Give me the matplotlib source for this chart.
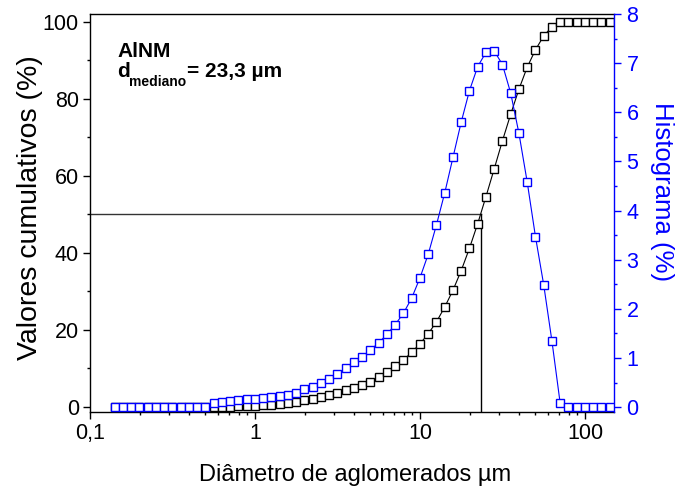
import matplotlib
matplotlib.use('Agg')
import matplotlib.pyplot as plt
from matplotlib.ticker import MultipleLocator, FixedLocator, FixedFormatter, LogLocator, NullFormatter

plt.rcParams['font.family'] = ['Liberation Sans', 'DejaVu Sans']

# Particle size classes (µm)
diam = [0.1413, 0.1585, 0.1778, 0.1995, 0.2239, 0.2512, 0.2818, 0.3162, 0.3548, 0.3981,
        0.4467, 0.5012, 0.5623, 0.6310, 0.7079, 0.7943, 0.8913, 1.000, 1.122, 1.259,
        1.413, 1.585, 1.778, 1.995, 2.239, 2.512, 2.818, 3.162, 3.548, 3.981,
        4.467, 5.012, 5.623, 6.310, 7.079, 7.943, 8.913, 10.00, 11.22, 12.59,
        14.13, 15.85, 17.78, 19.95, 22.39, 25.12, 28.18, 31.62, 35.48, 39.81,
        44.67, 50.12, 56.23, 63.10, 70.79, 79.43, 89.13, 100.0, 112.2, 125.9,
        141.3]

# Cumulative values (%)
cumul = [0, 0, 0, 0, 0, 0, 0, 0, 0, 0,
         0, 0, 0.02, 0.05, 0.1, 0.15, 0.25, 0.35, 0.45, 0.6,
         0.8, 1.05, 1.3, 1.7, 2.15, 2.6, 3.05, 3.65, 4.3, 4.95,
         5.65, 6.55, 7.86, 9.16, 10.64, 12.2, 14.2, 16.4, 19.0, 22.1,
         25.95, 30.3, 35.4, 41.2, 47.6, 54.6, 61.8, 69.1, 76.0, 82.5,
         88.2, 92.7, 96.3, 98.7, 99.8, 100, 100, 100, 100, 100,
         100]

# Histogram values (%)
hist = [0, 0, 0, 0, 0, 0, 0, 0, 0, 0,
        0, 0, 0.075, 0.11, 0.13, 0.14, 0.16, 0.16, 0.18, 0.20,
        0.22, 0.25, 0.285, 0.37, 0.41, 0.49, 0.58, 0.68, 0.79, 0.91,
        1.02, 1.16, 1.31, 1.48, 1.68, 1.91, 2.22, 2.63, 3.11, 3.71,
        4.36, 5.08, 5.80, 6.44, 6.93, 7.22, 7.25, 6.97, 6.39, 5.57,
        4.58, 3.47, 2.49, 1.34, 0.075, 0, 0, 0, 0, 0,
        0]

d50 = 23.3
median_level = 50

xticks = [0.1, 1, 10, 100]
xticklabels = ['0,1', '1', '10', '100']
yticks_left = [0, 20, 40, 60, 80, 100]
yticks_right = [0, 1, 2, 3, 4, 5, 6, 7, 8]

W, H = 677, 490
fig = plt.figure(figsize=(W / 100, H / 100), dpi=100)
ax = fig.add_axes([90 / W, 1 - 412 / H, 524 / W, 398 / H])

ax.set_xscale('log')
ax.set_xlim(0.1, 150)
ax.set_ylim(-1.3, 102)

ax.plot(diam, cumul, color='black', lw=0.8, marker='s', ms=5.6,
        mfc='white', mec='black', mew=1.0, zorder=3)
ax.plot([0.1, d50], [median_level, median_level], color='#333333', lw=1.0, zorder=2)
ax.plot([d50, d50], [median_level, -1.3], color='black', lw=1.0, zorder=2)

ax.xaxis.set_major_locator(FixedLocator(xticks))
ax.xaxis.set_major_formatter(FixedFormatter(xticklabels))
ax.xaxis.set_minor_locator(LogLocator(base=10, subs=[2, 3, 4, 5, 6, 7, 8, 9]))
ax.xaxis.set_minor_formatter(NullFormatter())
ax.yaxis.set_major_locator(FixedLocator(yticks_left))
ax.yaxis.set_minor_locator(MultipleLocator(10))

ax.tick_params(which='major', direction='out', length=5, width=1, labelsize=15.5, pad=3)
ax.tick_params(which='minor', direction='out', length=2.5, width=1)
ax.tick_params(top=False, right=False)
for s in ['left', 'bottom', 'top']:
    ax.spines[s].set_linewidth(1.0)
ax.spines['right'].set_visible(False)

ax.set_xlabel('Diâmetro de aglomerados µm', fontsize=17)
ax.xaxis.label.set_va('baseline')
ax.xaxis.set_label_coords((355 - 90) / 524, (412 - 481) / 398)
ax.set_ylabel('Valores cumulativos (%)', fontsize=20.5)
ax.yaxis.label.set_va('center')
ax.yaxis.set_label_coords((30 - 90) / 524, (412 - 208) / 398)

ax2 = ax.twinx()
ax2.set_ylim(-0.1, 8.0)
ax2.plot(diam, hist, color='blue', lw=0.8, marker='s', ms=5.6,
         mfc='white', mec='blue', mew=1.0, zorder=3)
ax2.yaxis.set_major_locator(FixedLocator(yticks_right))
ax2.yaxis.set_minor_locator(MultipleLocator(0.5))
ax2.tick_params(which='major', direction='out', length=5, width=1, labelsize=15.5,
                pad=4, colors='blue')
ax2.tick_params(which='minor', direction='out', length=2.5, width=1, colors='blue')
for s in ['left', 'bottom', 'top']:
    ax2.spines[s].set_visible(False)
ax2.spines['right'].set_color('blue')
ax2.spines['right'].set_linewidth(1.0)
ax2.set_ylabel('Histograma (%)', fontsize=18.5, color='blue', rotation=270)
ax2.yaxis.label.set_va('center')
ax2.yaxis.set_label_coords((662 - 90) / 524, (412 - 192) / 398)

fig.text(117 / W, 1 - 57 / H, 'AlNM', fontsize=15, fontweight='bold', va='baseline')
fig.text(117 / W, 1 - 77 / H, 'd', fontsize=15, fontweight='bold', va='baseline')
fig.text(129 / W, 1 - 86 / H, 'mediano', fontsize=10, fontweight='bold', va='baseline')
fig.text(187 / W, 1 - 77 / H, '= 23,3 µm', fontsize=15, fontweight='bold', va='baseline')

fig.savefig('out.png', dpi=100)
